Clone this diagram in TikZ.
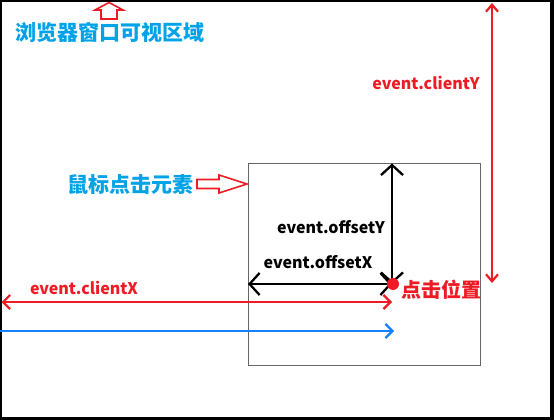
\documentclass[tikz,border=0pt]{standalone}
\usepackage{fontspec}
\newfontfamily\cjk{Noto Sans CJK SC}
\usetikzlibrary{arrows.meta}
\definecolor{myred}{RGB}{237,28,36}
\definecolor{mytxtblue}{RGB}{0,162,232}
\definecolor{myarrblue}{RGB}{20,130,255}
\tikzset{
  barb/.style={line width=2.3pt, arrows={Straight Barb[length=10pt,width=22pt,line width=2.3pt]-Straight Barb[length=10pt,width=22pt,line width=2.3pt]}},
  lbl/.style={inner sep=0pt, font=\cjk\bfseries\fontsize{16}{19}\selectfont},
  cjklbl/.style={inner sep=0pt, font=\cjk\bfseries\fontsize{21}{24}\selectfont, text=mytxtblue},
  hollow/.style={draw=myred, fill=white, line width=1.6pt, line join=miter},
}
\begin{document}
\begin{tikzpicture}[x=1pt,y=-1pt]
\useasboundingbox (0,0) rectangle (554,420);
% window frame
\fill[black] (0,0) rectangle (554,420);
\fill[white] (1.5,2.5) rectangle (549.5,417);
% clicked element
\node[draw=gray!80!black, line width=1pt, minimum width=232pt, minimum height=202pt, inner sep=0pt, anchor=north west] (elem) at (248,163) {};
\coordinate (click) at (392,284);
\coordinate (topY) at (392,163.5);
\coordinate (leftX) at (248,284);
\coordinate (cxL) at (1.5,302);
\coordinate (cxR) at (392,302);
\coordinate (bL) at (0,331);
\coordinate (bR) at (394,331);
\coordinate (cyT) at (492,3);
\coordinate (cyB) at (492,283);
% offset arrows
\draw[barb, black] (topY) -- (click);
\draw[barb, black] (leftX) -- (click);
% click point
\fill[myred] (393,284) circle (6pt);
% clientX
\draw[myred, line width=2.2pt, arrows={Straight Barb[length=7pt,width=14pt,line width=2.2pt]-Straight Barb[length=7pt,width=14pt,line width=2.2pt]}] (cxL) -- (cxR);
% blue
\draw[myarrblue, line width=2.2pt, arrows={-Straight Barb[length=7pt,width=14pt,line width=2.2pt]}] (bL) -- (bR);
% clientY
\draw[myred, line width=2.2pt, arrows={Straight Barb[length=7pt,width=12pt,line width=2.2pt]-Straight Barb[length=7pt,width=12pt,line width=2.2pt]}] (cyT) -- (cyB);
% hollow arrows
\draw[hollow] (109,2.5) -- (123,10) -- (117,10) -- (117,19) -- (101,19) -- (101,10) -- (95,10) -- cycle;
\draw[hollow] (197,179.5) -- (219,179.5) -- (219,175) -- (247,184) -- (219,193) -- (219,188.5) -- (197,188.5) -- cycle;
% labels
\node[cjklbl] (win) at (110,32) {浏览器窗口可视区域};
\node[cjklbl] (el) at (130,185) {鼠标点击元素};
\node[inner sep=0pt, font=\cjk\bfseries\fontsize{20}{24}\selectfont, text=myred] (pos) at (441,290) {点击位置};
\node[lbl, text=myred] (lcx) at (84,288) {event.clientX};
\node[lbl, text=myred] (lcy) at (426,83) {event.clientY};
\node[lbl, text=black] (loy) at (331,227) {event.offsetY};
\node[lbl, text=black] (lox) at (318,262) {event.offsetX};
\end{tikzpicture}
\end{document}
